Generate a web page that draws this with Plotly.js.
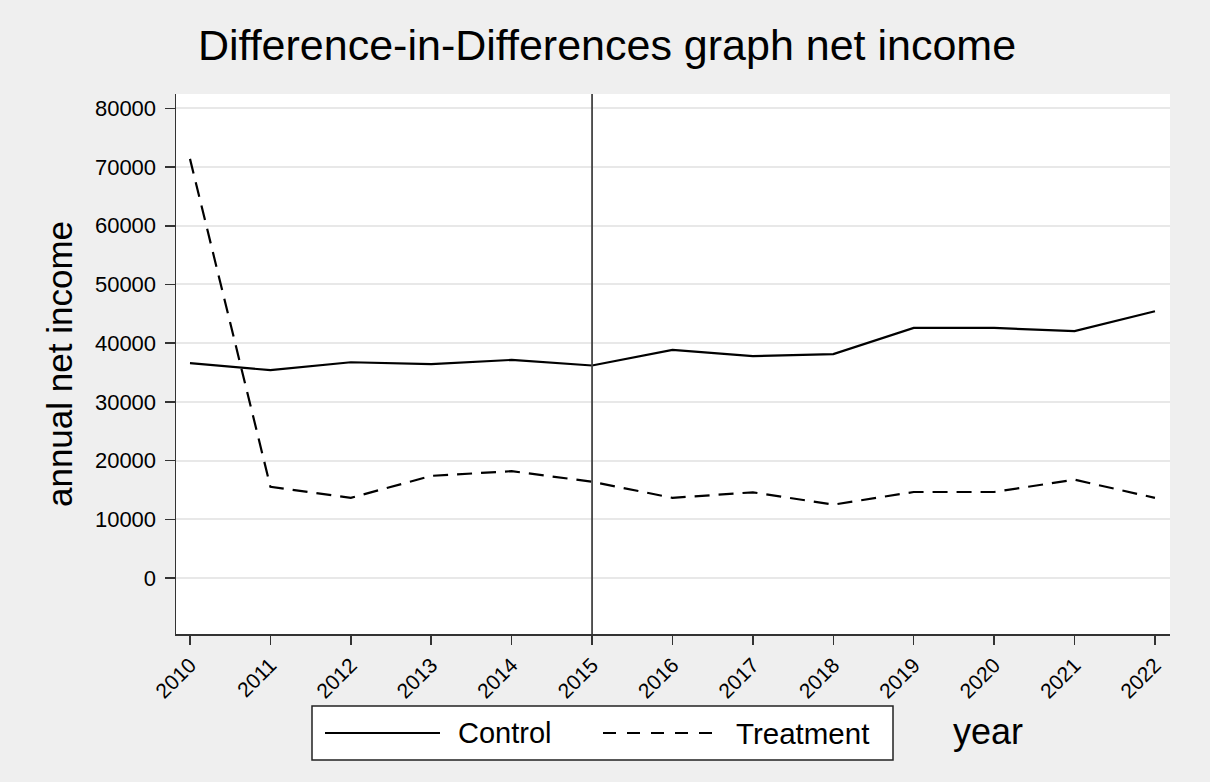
<!DOCTYPE html>
<html>
<head>
<meta charset="utf-8">
<script src="https://cdn.plot.ly/plotly-3.0.1.min.js"></script>
<style>
  html, body { margin: 0; padding: 0; background: #efefef; }
  #chart { width: 1210px; height: 782px; }
</style>
</head>
<body>
<div id="chart"></div>
<script>
// ---- data ----
const years = [2010, 2011, 2012, 2013, 2014, 2015, 2016, 2017, 2018, 2019, 2020, 2021, 2022];
const control = [36600, 35400, 36750, 36450, 37150, 36200, 38850, 37800, 38150, 42600, 42600, 42050, 45450];
const treatment = [71400, 15550, 13650, 17400, 18200, 16400, 13650, 14600, 12500, 14650, 14650, 16750, 13650];
const seriesNames = ["Control", "Treatment"];
const yTicks = [0, 10000, 20000, 30000, 40000, 50000, 60000, 70000, 80000];
const treatmentYear = 2015;
const titleText = "Difference-in-Differences graph net income";
const yTitle = "annual net income";
const xTitle = "year";

// ---- layout helpers (plot area in pixels) ----
const W = 1210, H = 782;
const L = 176, R = 1170, T = 94, B = 634;
const px = x => (x - L) / (R - L);
const py = y => (B - y) / (B - T);
const FONT = "Liberation Sans, Arial, sans-serif";

const traces = [
  { x: years, y: control, name: seriesNames[0], type: "scatter", mode: "lines",
    line: { color: "#000000", width: 2.2 }, showlegend: false },
  { x: years, y: treatment, name: seriesNames[1], type: "scatter", mode: "lines",
    line: { color: "#000000", width: 2.2, dash: "15px,9px" }, showlegend: false }
];

const legendY = py(733);
const shapes = [
  { type: "line", xref: "x", yref: "paper", x0: treatmentYear, x1: treatmentYear, y0: 0, y1: 1,
    line: { color: "#444444", width: 1.8 } },
  // legend box
  { type: "rect", xref: "paper", yref: "paper", x0: px(312), x1: px(893), y0: py(760), y1: py(706),
    fillcolor: "#ffffff", line: { color: "#222222", width: 1.5 } },
  { type: "line", xref: "paper", yref: "paper", x0: px(325), x1: px(440), y0: legendY, y1: legendY,
    line: { color: "#000000", width: 2 } },
  { type: "line", xref: "paper", yref: "paper", x0: px(603), x1: px(718), y0: legendY, y1: legendY,
    line: { color: "#000000", width: 2, dash: "13px,11px" } }
];

const annotations = [
  { text: seriesNames[0], xref: "paper", yref: "paper", x: px(456), y: legendY,
    xanchor: "left", yanchor: "middle", showarrow: false, font: { family: FONT, size: 29, color: "#000" } },
  { text: seriesNames[1], xref: "paper", yref: "paper", x: px(734), y: legendY,
    xanchor: "left", yanchor: "middle", showarrow: false, font: { family: FONT, size: 29.5, color: "#000" } },
  { text: xTitle, xref: "paper", yref: "paper", x: px(951), y: py(731),
    xanchor: "left", yanchor: "middle", showarrow: false, font: { family: FONT, size: 36, color: "#000" } }
];

const layout = {
  width: W, height: H,
  paper_bgcolor: "#efefef",
  plot_bgcolor: "#ffffff",
  margin: { l: L, r: W - R, t: T, b: H - B, pad: 0 },
  showlegend: false,
  title: { text: titleText, x: 607 / W, xanchor: "center", y: 1 - 45 / H, yanchor: "middle",
    xref: "container", yref: "container", font: { family: FONT, size: 43, color: "#000" } },
  font: { family: FONT, color: "#000" },
  xaxis: {
    range: [2009.826, 2022.187],
    tickmode: "array", tickvals: years, ticktext: years.map(String),
    tickangle: -45, ticks: "outside", ticklen: 9, tickwidth: 1.5, tickcolor: "#333",
    tickfont: { family: FONT, size: 21, color: "#000" },
    showgrid: false, zeroline: false,
    showline: true, linecolor: "#333", linewidth: 1.5,
    automargin: false
  },
  yaxis: {
    range: [-9540, 82450],
    tickmode: "array", tickvals: yTicks, ticktext: yTicks.map(String),
    ticks: "outside", ticklen: 10, tickwidth: 1.5, tickcolor: "#333",
    tickfont: { family: FONT, size: 22, color: "#000" },
    ticklabelstandoff: 4,
    showgrid: true, gridcolor: "#e8e8e8", gridwidth: 2, zeroline: false,
    showline: true, linecolor: "#333", linewidth: 1.5,
    title: { text: yTitle, font: { family: FONT, size: 35, color: "#000" }, standoff: 11 },
    automargin: false
  },
  shapes: shapes,
  annotations: annotations
};

Plotly.newPlot("chart", traces, layout, { displayModeBar: false, staticPlot: true });
</script>
</body>
</html>
